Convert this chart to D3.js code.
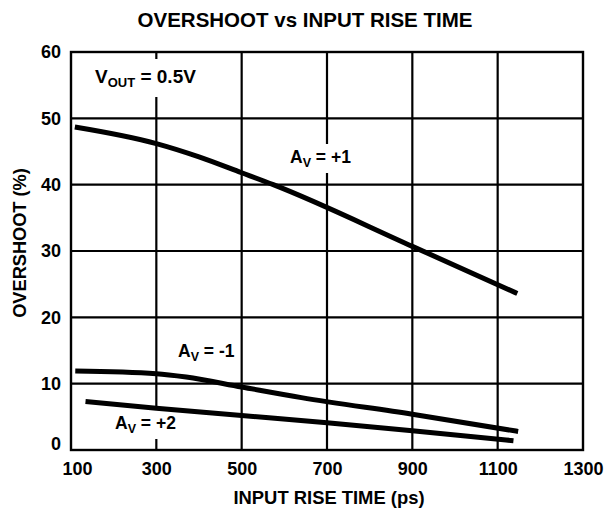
<!DOCTYPE html>
<html>
<head>
<meta charset="utf-8">
<script src="https://cdn.jsdelivr.net/npm/d3@7"></script>
<style>
  html, body { margin: 0; padding: 0; background: #fff; }
  svg { display: block; font-family: "Liberation Sans", Arial, Helvetica, sans-serif; font-weight: bold; }
</style>
</head>
<body>
<svg id="chart" width="605" height="508"></svg>
<script>
// Overshoot (%) versus input rise time (ps), one series per closed-loop gain
const xTicks = [100, 300, 500, 700, 900, 1100, 1300];
const yTicks = [0, 10, 20, 30, 40, 50, 60];

const gainPlus1 = [
  [109, 48.7], [300, 46.2], [400, 44.2], [500, 41.8],
  [574, 40.0], [900, 30.7], [1146, 23.6]
];
const gainMinus1 = [
  [110, 11.9], [300, 11.5], [370, 11.0], [500, 9.5], [640, 7.9],
  [900, 5.4], [1148, 2.8]
];
const gainPlus2 = [
  [134, 7.3], [300, 6.3], [500, 5.2], [700, 4.1], [900, 2.9], [1137, 1.4]
];

const svg = d3.select("#chart");
const plot = { left: 71, right: 583, top: 52, bottom: 450 };

const x = d3.scaleLinear().domain([100, 1300]).range([plot.left, plot.right]);
const y = d3.scaleLinear().domain([0, 60]).range([plot.bottom, plot.top]);

// Title
svg.append("text")
  .attr("x", 305).attr("y", 27)
  .attr("text-anchor", "middle")
  .attr("font-size", 20.5)
  .text("OVERSHOOT vs INPUT RISE TIME");

// Grid
const grid = svg.append("g").attr("stroke", "#000").attr("stroke-width", 2.2);
grid.selectAll("line.v").data(xTicks.slice(1, -1)).join("line")
  .attr("class", "v")
  .attr("x1", d => x(d)).attr("x2", d => x(d))
  .attr("y1", plot.top).attr("y2", plot.bottom);
grid.selectAll("line.h").data(yTicks.slice(1, -1)).join("line")
  .attr("class", "h")
  .attr("x1", plot.left).attr("x2", plot.right)
  .attr("y1", d => y(d)).attr("y2", d => y(d));

// Frame
svg.append("rect")
  .attr("x", plot.left).attr("y", plot.top)
  .attr("width", plot.right - plot.left).attr("height", plot.bottom - plot.top)
  .attr("fill", "none").attr("stroke", "#000").attr("stroke-width", 2.4);

// Axes (labels only, no tick marks)
const xAxis = svg.append("g")
  .attr("transform", `translate(0,${plot.bottom})`)
  .call(d3.axisBottom(x).tickValues(xTicks).tickSize(0).tickPadding(12).tickFormat(d3.format("d")));
xAxis.select(".domain").remove();
xAxis.selectAll("text").attr("font-size", 18).attr("fill", "#000")
  .attr("font-family", "Liberation Sans, Arial, sans-serif").attr("font-weight", "bold")
  .attr("dx", d => d === 100 ? 6 : 0);

const yAxis = svg.append("g")
  .attr("transform", `translate(${plot.left},0)`)
  .call(d3.axisLeft(y).tickValues(yTicks).tickSize(0).tickPadding(10).tickFormat(d3.format("d")));
yAxis.select(".domain").remove();
yAxis.selectAll("text").attr("font-size", 18).attr("fill", "#000")
  .attr("font-family", "Liberation Sans, Arial, sans-serif").attr("font-weight", "bold")
  .attr("dy", d => d === 0 ? "-0.05em" : "0.32em");

// Axis titles
svg.append("text")
  .attr("x", 329).attr("y", 504)
  .attr("text-anchor", "middle")
  .attr("font-size", 18.4)
  .text("INPUT RISE TIME (ps)");

svg.append("text")
  .attr("transform", "translate(26,243) rotate(-90)")
  .attr("text-anchor", "middle")
  .attr("font-size", 18.2)
  .text("OVERSHOOT (%)");

// Annotations with a white backing that interrupts the grid
function label(xp, yp, main, sub, rest, size, subSize, padX, padY) {
  const g = svg.append("g");
  const bg = g.append("rect").attr("fill", "#fff");
  const t = g.append("text").attr("x", xp).attr("y", yp).attr("font-size", size);
  t.append("tspan").text(main);
  t.append("tspan").attr("font-size", subSize).attr("dy", 4).text(sub);
  t.append("tspan").attr("dy", -4).text(rest);
  const b = t.node().getBBox();
  bg.attr("x", b.x - padX).attr("y", b.y - padY)
    .attr("width", b.width + 2 * padX).attr("height", b.height + 2 * padY);
}
label(95, 83, "V", "OUT", " = 0.5V", 19, 13, 4, 7);
label(290, 163, "A", "V", " = +1", 17.5, 12.5, 3, 3);
label(178, 357, "A", "V", " = -1", 17.5, 12.5, 3, 3);
label(115, 429, "A", "V", " = +2", 17.5, 12.5, 3, 3);

// Curves
const line = d3.line()
  .x(d => x(d[0])).y(d => y(d[1]))
  .curve(d3.curveMonotoneX);

svg.append("g")
  .attr("fill", "none").attr("stroke", "#000")
  .attr("stroke-width", 5).attr("stroke-linecap", "butt")
  .selectAll("path")
  .data([gainPlus1, gainMinus1, gainPlus2])
  .join("path")
  .attr("d", line);
</script>
</body>
</html>
